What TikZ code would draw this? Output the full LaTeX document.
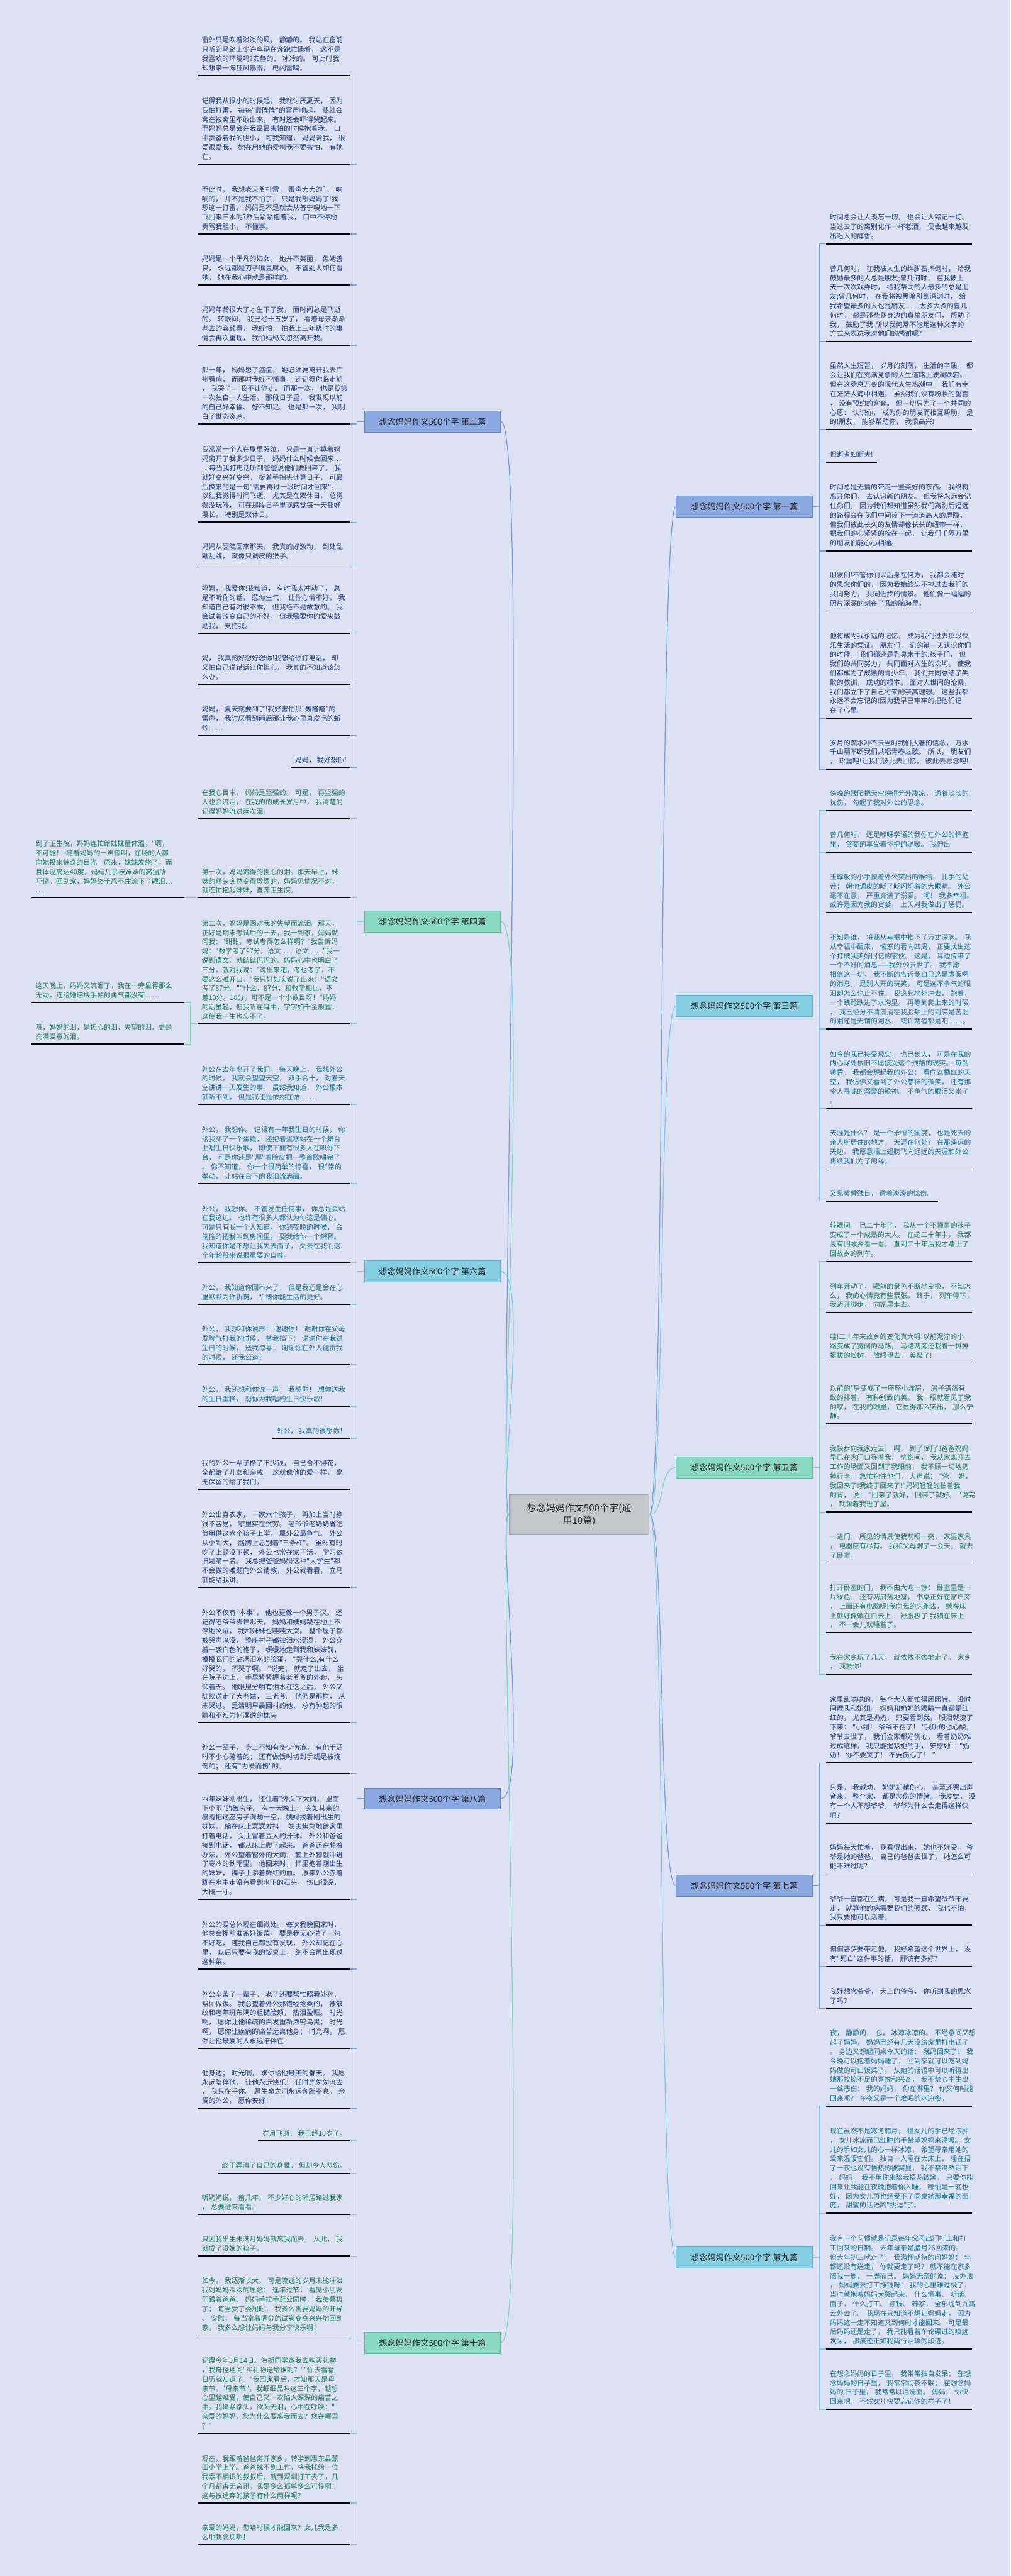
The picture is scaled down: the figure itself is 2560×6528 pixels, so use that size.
\documentclass[tikz,border=0pt]{standalone}
\usepackage{fontspec}
\newfontfamily\zh{Noto Sans CJK SC}
\definecolor{bg}{RGB}{220,225,243}
\definecolor{cB}{RGB}{125,158,220}
\definecolor{cC}{RGB}{132,200,226}
\definecolor{cG}{RGB}{134,212,190}
\definecolor{fB}{RGB}{140,168,224}
\definecolor{fC}{RGB}{136,206,226}
\definecolor{fG}{RGB}{138,216,194}
\definecolor{dB}{RGB}{100,132,200}
\definecolor{dC}{RGB}{100,175,205}
\definecolor{dG}{RGB}{100,185,160}
\definecolor{tB}{RGB}{30,58,118}
\definecolor{tC}{RGB}{28,112,142}
\definecolor{tG}{RGB}{28,120,90}
\definecolor{cgray}{RGB}{196,198,206}
\tikzset{
  leaf/.style={inner xsep=10pt, inner ysep=0pt, text width=400pt, align=left, font=\zh\fontsize{17.3}{23.6}\selectfont},
  leafs/.style={inner xsep=10pt, inner ysep=0pt, font=\zh\fontsize{17.3}{23.6}\selectfont},
  uline/.style={line width=2.5pt, black},
  br/.style={draw, line width=1.5pt, minimum width=345pt, minimum height=54pt, inner sep=0pt, font=\zh\fontsize{21}{25}\selectfont, text=black!85},
  conn/.style={line width=2pt}
}
\newcommand{\leafL}[5]{\node[leaf,text=#4,anchor=north west] (#1) at (501,{#2-28.9-(#3-1)*23.6}) {\strut #5};
  \coordinate (#1-s) at (501,#2); \coordinate (#1-e) at (888,#2); \draw[uline] (#1-s) -- (#1-e);}
\newcommand{\leafLs}[4]{\node[leafs,text=#3,anchor=north east] (#1) at (888,{#2-28.9}) {\strut #4};
  \coordinate (#1-s) at (#1.west |- 0,#2); \coordinate (#1-e) at (888,#2); \draw[uline] (#1-s) -- (#1-e);}
\newcommand{\leafR}[5]{\node[leaf,text=#4,anchor=north west] (#1) at (2092,{#2-29.9-(#3-1)*23.6}) {\strut #5};
  \coordinate (#1-s) at (2092,#2); \coordinate (#1-e) at (2462,#2); \draw[uline] (#1-s) -- (#1-e);}
\newcommand{\leafRs}[4]{\node[leafs,text=#3,anchor=north west] (#1) at (2092,{#2-29.9}) {\strut #4};
  \coordinate (#1-s) at (2092,#2); \coordinate (#1-e) at (#1.east |- 0,#2); \draw[uline] (#1-s) -- (#1-e);}
\newcommand{\leafF}[5]{\node[leaf,text=#4,anchor=north west] (#1) at (80,{#2-28.9-(#3-1)*23.6}) {\strut #5};
  \coordinate (#1-s) at (80,#2); \coordinate (#1-e) at (467,#2); \draw[uline] (#1-s) -- (#1-e);}
\begin{document}
\begin{tikzpicture}[x=1pt,y=-1pt]
\useasboundingbox (0,0) rectangle (2560,6528);
\fill[bg] (0,0) rectangle (2560,6528);

% ---------- center ----------
\node[draw=gray!70, fill=cgray, line width=1.5pt, minimum width=355pt, minimum height=100pt, align=center, font=\zh\fontsize{24}{32}\selectfont, text=black!85] (c) at (1467,3838) {想念妈妈作文500个字(通\\用10篇)};

% ---------- branches ----------
\node[br, fill=fB, draw=dB] (b2) at (1095.5,1068) {想念妈妈作文500个字 第二篇};
\node[br, fill=fG, draw=dG] (b4) at (1095.5,2335) {想念妈妈作文500个字 第四篇};
\node[br, fill=fC, draw=dC] (b6) at (1095.5,3222) {想念妈妈作文500个字 第六篇};
\node[br, fill=fB, draw=dB] (b8) at (1095.5,4558) {想念妈妈作文500个字 第八篇};
\node[br, fill=fG, draw=dG] (b10) at (1095.5,5937) {想念妈妈作文500个字 第十篇};
\node[br, fill=fB, draw=dB] (b1) at (1885.5,1283) {想念妈妈作文500个字 第一篇};
\node[br, fill=fC, draw=dC] (b3) at (1885.5,2549) {想念妈妈作文500个字 第三篇};
\node[br, fill=fG, draw=dG] (b5) at (1885.5,3719) {想念妈妈作文500个字 第五篇};
\node[br, fill=fB, draw=dB] (b7) at (1885.5,4779) {想念妈妈作文500个字 第七篇};
\node[br, fill=fC, draw=dC] (b9) at (1885.5,5721) {想念妈妈作文500个字 第九篇};

% curves center -> branches
\foreach \b/\col in {b2/cB,b4/cG,b6/cC,b8/cB,b10/cG}
  \draw[conn,\col] (c.west) .. controls +(-30,0) and +(75,0) .. (\b.east);
\foreach \b/\col in {b1/cB,b3/cC,b5/cG,b7/cB,b9/cC}
  \draw[conn,\col] (c.east) .. controls +(40,0) and +(-45,0) .. (\b.west);

% ---------- 第二篇 ----------
\leafL{L21}{191}{4}{tB}{窗外只是吹着淡淡的风， 静静的。 我站在窗前\\只听到马路上少许车辆在奔跑忙碌着， 这不是\\我喜欢的环境吗?安静的、 冰冷的。 可此时我\\却想来一阵狂风暴雨， 电闪雷鸣。}
\leafL{L22}{416}{7}{tB}{记得我从很小的时候起， 我就讨厌夏天， 因为\\我怕打雷， 每每"轰隆隆"的雷声响起， 我就会\\窝在被窝里不敢出来， 有时还会吓得哭起来。\\而妈妈总是会在我最最害怕的时候抱着我， 口\\中责备着我的胆小， 可我知道， 妈妈爱我， 很\\爱很爱我， 她在用她的爱叫我不要害怕， 有她\\在。}
\leafL{L23}{593}{5}{tB}{而此时， 我想老天爷打雷， 雷声大大的\textasciigrave、 响\\响的， 并不是我不怕了， 只是我想妈妈了!我\\想这一打雷， 妈妈是不是就会从普宁嗖地一下\\飞回来三水呢?然后紧紧抱着我， 口中不停地\\责骂我胆小， 不懂事。}
\leafL{L24}{722}{3}{tB}{妈妈是一个平凡的妇女， 她并不美丽， 但她善\\良， 永远都是刀子嘴豆腐心， 不管别人如何看\\她， 她在我心中就是那样的。}
\leafL{L25}{875}{4}{tB}{妈妈年龄很大了才生下了我， 而时间总是飞逝\\的。 转眼间， 我已经十五岁了， 看着母亲渐渐\\老去的容颜看， 我好怕， 怕我上三年级时的事\\情会再次重现， 我怕妈妈又忽然离开我。}
\leafL{L26}{1074}{6}{tB}{那一年， 妈妈患了癌症， 她必须要离开我去广\\州看病， 而那时我好不懂事， 还记得你临走前\\， 我哭了， 我不让你走。 而那一次， 也是我第\\一次独自一人生活。 那段日子里， 我发现以前\\的自己好幸福、 好不知足。 也是那一次， 我明\\白了世态炎凉。}
\leafL{L27}{1323}{8}{tB}{我常常一个人在屋里哭泣， 只是一直计算着妈\\妈离开了我多少日子， 妈妈什么时候会回来…\\…每当我打电话听到爸爸说他们要回来了， 我\\就好高兴好高兴， 板着手指头计算日子， 可最\\后换来的是一句"需要再过一段时间才回来"。\\以往我觉得时间飞逝， 尤其是在双休日， 总觉\\得没玩够， 可在那段日子里我感觉每一天都好\\漫长， 特别是双休日。}
\leafL{L28}{1428.5}{2}{tB}{妈妈从医院回来那天， 我真的好激动， 到处乱\\蹦乱跳， 就像只调皮的猴子。}
\leafL{L29}{1604.6}{5}{tB}{妈妈， 我爱你!我知道， 有时我太冲动了， 总\\是不听你的话， 惹你生气， 让你心情不好， 我\\知道自己有时很不乖， 但我绝不是故意的。 我\\会试着改变自己的不好， 但我需要你的爱来鼓\\励我， 支持我。}
\leafL{L210}{1733.7}{3}{tB}{妈， 我真的好想好想你!我想给你打电话， 却\\又怕自己说错话让你担心， 我真的不知道该怎\\么办。}
\leafL{L211}{1863.4}{3}{tB}{妈妈， 夏天就要到了!我好害怕那"轰隆隆"的\\雷声， 我讨厌看到雨后那让我心里直发毛的蚯\\蚓……}
\leafLs{L212}{1944.8}{tB}{妈妈， 我好想你!}
\foreach \n in {L21,L22,L23,L24,L25,L26,L27,L28,L29,L210,L211,L212}
  \draw[conn,cB] (b2.west) -- ++(-18,0) |- (\n-e);

% ---------- 第四篇 ----------
\leafL{L41}{2074.6}{3}{tG}{在我心目中， 妈妈是坚强的。 可是， 再坚强的\\人也会流泪， 在我的的成长岁月中， 我清楚的\\记得妈妈流过两次泪。}
\leafL{L42}{2275}{3}{tG}{第一次，妈妈流得的担心的泪。那天早上，妹\\妹的额头突然变得烫烫的，妈妈见情况不对，\\就连忙抱起妹妹，直奔卫生院。}
\leafL{L43}{2594.7}{11}{tG}{第二次，妈妈是因对我的失望而流泪。那天，\\正好是期末考试后的一天，我一到家，妈妈就\\问我："甜甜，考试考得怎么样啊？"我告诉妈\\妈："数学考了97分，语文……语文……"我一\\说到语文，就结结巴巴的。妈妈心中也明白了\\三分，就对我说："说出来吧，考也考了，不\\要这么难开口。"我只好如实说了出来："语文\\考了87分。""什么，87分，和数学相比，不\\差10分。10分，可不是一个小数目呀！"妈妈\\的话虽轻，但我听在耳中，字字如千金般重，\\这使我一生也忘不了。}
\leafF{F1}{2275}{6}{tG}{到了卫生院，妈妈连忙给妹妹量体温，"啊，\\不可能！"随着妈妈的一声惊叫，在场的人都\\向她投来惊奇的目光。原来，妹妹发烧了，而\\且体温高达40度，妈妈几乎被妹妹的高温所\\吓倒。回到家，妈妈终于忍不住流下了眼泪…\\…}
\leafF{F2}{2541}{2}{tG}{这天晚上，妈妈又流泪了，我在一旁显得那么\\无助，连给她递块手帕的勇气都没有……}
\leafF{F3}{2646}{2}{tG}{哦，妈妈的泪，是担心的泪，失望的泪，更是\\充满爱意的泪。}
\foreach \n in {L41,L42,L43}
  \draw[conn,cG] (b4.west) -- ++(-18,0) |- (\n-e);
\draw[conn,cG] (L42-s) -- (F1-e);
\foreach \n in {F2,F3}
  \draw[conn,cG] (L43-s) -- ++(-18,0) |- (\n-e);

% ---------- 第六篇 ----------
\leafL{L61}{2798.7}{4}{tC}{外公在去年离开了我们。 每天晚上， 我想外公\\的时候， 我就会望望天空， 双手合十， 对着天\\空讲讲一天发生的事。 虽然我知道， 外公根本\\就听不到， 但是我还是依然在做……}
\leafL{L62}{2999.4}{6}{tC}{外公， 我想你。 记得有一年我生日的时候， 你\\给我买了一个蛋糕， 还抱着蛋糕站在一个舞台\\上唱生日快乐歌， 即使下面有很多人在哄你下\\台， 可是你还是"厚"着脸皮把一整首歌唱完了\\。 你不知道， 你一个很简单的惊喜， 很*常的\\举动， 让站在台下的我泪流满面。}
\leafL{L63}{3200}{6}{tC}{外公， 我想你。 不管发生任何事， 你总是会站\\在我这边， 也许有很多人都认为你这是偏心。\\可是只有我一个人知道， 你到夜晚的时候， 会\\偷偷的把我叫到房间里， 要我给你一个解释。\\我知道你是不想让我失去面子， 失去在我们这\\个年龄段来说很重要的自尊。}
\leafL{L64}{3306}{2}{tC}{外公， 我知道你回不来了， 但是我还是会在心\\里默默为你祈祷， 祈祷你能生活的更好。}
\leafL{L65}{3458}{4}{tC}{外公， 我想和你说声： 谢谢你！ 谢谢你在父母\\发脾气打我的时候， 替我挡下； 谢谢你在我过\\生日的时候， 送我惊喜； 谢谢你在外人谴责我\\的时候， 还我公道！}
\leafL{L66}{3564}{2}{tC}{外公， 我还想和你说一声： 我想你！ 想你送我\\的生日蛋糕， 想你为我唱的生日快乐歌！}
\leafLs{L67}{3645}{tC}{外公， 我真的很想你！}
\foreach \n in {L61,L62,L63,L64,L65,L66,L67}
  \draw[conn,cC] (b6.west) -- ++(-18,0) |- (\n-e);

% ---------- 第八篇 ----------
\leafL{L81}{3773.7}{3}{tB}{我的外公一辈子挣了不少钱， 自己舍不得花，\\全都给了儿女和亲戚。 这就像他的爱一样， 毫\\无保留的给了我们。}
\leafL{L82}{4022.7}{8}{tB}{外公出身农家， 一家六个孩子， 再加上当时挣\\钱不容易， 家里实在贫穷。 老爷爷老奶奶省吃\\俭用供这六个孩子上学， 属外公最争气。 外公\\从小到大， 胳膊上总别着"三条杠"。 虽然有时\\吃了上顿没下顿， 外公也常在家干活， 学习依\\旧是第一名。 我总把爸爸妈妈这种"大学生"都\\不会做的难题向外公请教， 外公就看看， 立马\\就能给我讲。}
\leafL{L83}{4365}{12}{tB}{外公不仅有"本事"， 他也更像一个男子汉。 还\\记得老爷爷去世那天， 妈妈和姨妈跪在地上不\\停地哭泣， 我和妹妹也哇哇大哭。 整个屋子都\\被哭声淹没， 整座村子都被泪水浸湿， 外公穿\\着一袭白色的袍子， 缓缓地走到我和妹妹前，\\摸摸我们的沾满泪水的脸蛋， "哭什么,有什么\\好哭的， 不哭了啊。 "说完， 就走了出去， 坐\\在院子边上， 手里紧紧握着老爷爷的外套， 头\\仰着天。 他眼里分明有泪水在这之后， 外公又\\陆续送走了大老姑， 三老爷。 他仍是那样， 从\\未哭过， 是清明早晨回村的他， 总有肿起的眼\\睛和不知为何湿透的枕头}
\leafL{L84}{4494}{3}{tB}{外公一辈子， 身上不知有多少伤痕。 有他干活\\时不小心磕着的； 还有做饭时切到手或是被烧\\伤的； 还有"为爱而伤"的。}
\leafL{L85}{4813}{11}{tB}{xx年妹妹刚出生， 还住着"外头下大雨， 里面\\下小雨"的破房子。 有一天晚上， 突如其来的\\暴雨把这座房子洗劫一空， 姨妈搂着刚出生的\\妹妹， 缩在床上瑟瑟发抖， 姨夫焦急地给家里\\打着电话， 头上冒着豆大的汗珠。 外公和爸爸\\接到电话， 都从床上爬了起来。 爸爸还在想着\\办法， 外公望着窗外的大雨， 套上外套就冲进\\了寒冷的秋雨里。 他回来时， 怀里抱着刚出生\\的妹妹， 裤子上渗着鲜红的血。 原来外公赤着\\脚在水中走没有看到水下的石头。 伤口很深，\\大概一寸。}
\leafL{L86}{4990}{5}{tB}{外公的爱总体现在细微处。 每次我晚回家时，\\他总会提前准备好饭菜。 要是我无心说了一句\\不好吃， 连我自己都没有发现， 外公却记在心\\里。 以后只要有我的饭桌上， 绝不会再出现过\\这种菜。}
\leafL{L87}{5190.6}{6}{tB}{外公辛苦了一辈子， 老了还要帮忙照看外孙，\\帮忙做饭。 我总望着外公那饱经沧桑的， 被皱\\纹和老年斑布满的粗糙脸颊， 热泪盈眶。 时光\\啊， 愿你让他稀疏的白发重新浓密乌黑； 时光\\啊， 愿你让疾病的痛苦远离他身； 时光啊， 愿\\你让他最爱的人永远陪伴在}
\leafL{L88}{5342.8}{4}{tB}{他身边； 时光啊， 求你给他最美的春天。 我愿\\永远陪伴他， 让他永远快乐！ 任时光匆匆流去\\， 我只在乎你。 愿生命之河永远奔腾不息。 亲\\爱的外公， 愿你安好！}
\foreach \n in {L81,L82,L83,L84,L85,L86,L87,L88}
  \draw[conn,cB] (b8.west) -- ++(-18,0) |- (\n-e);

% ---------- 第十篇 ----------
\leafLs{L101}{5425}{tG}{岁月飞逝， 我已经10岁了。}
\leafLs{L102}{5507}{tG}{终于弄清了自己的身世， 但却令人悲伤。}
\leafL{L103}{5612}{2}{tG}{听奶奶说， 前几年， 不少好心的邻居路过我家\\， 总要进来看看。}
\leafL{L104}{5717}{2}{tG}{只因我出生未满月妈妈就离我而去， 从此， 我\\就成了没娘的孩子。}
\leafL{L105}{5917}{6}{tG}{如今， 我逐渐长大， 可是流逝的岁月未能冲淡\\我对妈妈深深的思念： 逢年过节， 看见小朋友\\们跟着爸爸、 妈妈手拉手逛公园时， 我羡慕极\\了； 每当受了委屈时， 我多么需要妈妈的开导\\、 安慰； 每当拿着满分的试卷高高兴兴地回到\\家， 我多么想让妈妈与我分享快乐啊！}
\leafL{L106}{6166}{8}{tG}{记得今年5月14日。海娇同学邀我去购买礼物\\，我奇怪地问"买礼物送给谁呢？""你去看看\\日历就知道了。"我回家看后，才知那天是母\\亲节。"母亲节"，我细细品味这三个字，越想\\心里越难受，使自己又一次陷入深深的痛苦之\\中。我攥紧拳头，欲哭无泪，心中在呼唤："\\亲爱的妈妈，您为什么要离我而去？您在哪里\\？"}
\leafL{L107}{6343}{5}{tG}{现在，我跟着爸爸离开家乡，转学到惠东县蕉\\田小学上学。爸爸找不到工作，将我托给一位\\我素不相识的叔叔后，就到深圳打工去了，几\\个月都杳无音讯。我是多么孤单多么可怜啊！\\这与被遗弃的孩子有什么两样呢？}
\leafL{L108}{6448}{2}{tG}{亲爱的妈妈，您啥时候才能回来？女儿我是多\\么地想念您啊！}
\foreach \n in {L101,L102,L103,L104,L105,L106,L107,L108}
  \draw[conn,cG] (b10.west) -- ++(-18,0) |- (\n-e);

% ---------- 第一篇 ----------
\leafR{R11}{618}{3}{tB}{时间总会让人淡忘一切， 也会让人铭记一切。\\当过去了的离别化作一杯老酒， 便会越来越发\\出迷人的醇香。}
\leafR{R12}{865.6}{8}{tB}{曾几何时， 在我被人生的绊脚石摔倒时， 给我\\鼓励最多的人总是朋友;曾几何时， 在我被上\\天一次次戏弄时， 给我帮助的人最多的总是朋\\友;曾几何时， 在我将被黑暗引到深渊时， 给\\我希望最多的人也是朋友……太多太多的曾几\\何时。 都是那些我身边的真挚朋友们， 帮助了\\我， 鼓励了我!所以我何常不能用这种文字的\\方式来表达我对他们的感谢呢?}
\leafR{R13}{1088.7}{7}{tB}{虽然人生短暂， 岁月的刻薄， 生活的辛酸。 都\\会让我们在充满竞争的人生道路上波澜跌宕。\\但在这瞬息万变的现代人生热潮中， 我们有幸\\在茫茫人海中相遇。 虽然我们没有粉妆的誓言\\， 没有预约的客套。 但一切只为了一个共同的\\心愿： 认识你， 成为你的朋友而相互帮助。 是\\的!朋友， 能够帮助你， 我很高兴!}
\leafRs{R14}{1171}{tB}{但逝者如斯夫!}
\leafR{R15}{1396}{7}{tB}{时间总是无情的带走一些美好的东西。 我终将\\离开你们， 去认识新的朋友。 但我将永远会记\\住你们， 因为我们都知道虽然我们离别后遥远\\的路程会在我们中间设下一道道高大的屏障，\\但我们彼此长久的友情却像长长的纽带一样，\\把我们的心紧紧的栓在一起， 让我们千隔万里\\的朋友们能心心相通。}
\leafR{R16}{1548.5}{4}{tB}{朋友们!不管你们以后身在何方， 我都会随时\\的思念你们的， 因为我始终忘不掉过去我们的\\共同努力， 共同进步的情景。 他们像一幅幅的\\照片深深的刻在了我的脑海里。}
\leafR{R17}{1820}{9}{tB}{他将成为我永远的记忆， 成为我们过去那段快\\乐生活的凭证。 朋友们， 记的第一天认识你们\\的时候， 我们都还是乳臭未干的.孩子们， 但\\我们的共同努力， 共同面对人生的坎坷， 使我\\们都成为了成熟的青少年， 我们共同总结了失\\败的教训， 成功的根本。 面对人世间的沧桑，\\我们都立下了自己将来的崇高理想。 这些我都\\永远不会忘记的!因为我早已牢牢的把他们记\\在了心里。}
\leafR{R18}{1949}{3}{tB}{岁月的流水冲不去当时我们执著的信念， 万水\\千山隔不断我们共唱青春之歌。 所以， 朋友们\\， 珍重吧!让我们彼此去回忆， 彼此去思念吧!}
\foreach \n in {R11,R12,R13,R14,R15,R16,R17,R18}
  \draw[conn,cB] (b1.east) -- ++(17,0) |- (\n-s);

% ---------- 第三篇 ----------
\leafR{R31}{2054}{2}{tC}{傍晚的残阳把天空映得分外凄凉， 透着淡淡的\\忧伤， 勾起了我对外公的思念。}
\leafR{R32}{2159.6}{2}{tC}{曾几何时， 还是咿呀学语的我你在外公的怀抱\\里， 贪婪的享受着怀抱的温暖。 我伸出}
\leafR{R33}{2312.8}{4}{tC}{玉琢般的小手摸着外公突出的喉结， 扎手的胡\\茬； 朝他调皮的眨了眨闪烁着的大眼睛。 外公\\毫不在意， 严重充满了溺爱。 呵！ 我多幸福。\\或许是因为我的贪婪， 上天对我做出了惩罚。}
\leafR{R34}{2607.5}{10}{tC}{不知是谁， 将我从幸福中推下了万丈深渊。 我\\从幸福中醒来， 恼怒的看向四周， 正要找出这\\个打破我美好回忆的家伙。 这是， 耳边传来了\\一个不好的消息——我外公去世了。 我不愿\\相信这一切， 我不断的告诉我自己这是虚假啊\\的消息， 是别人开的玩笑， 可是这不争气的眼\\泪却怎么也止不住。 我疯狂地外冲去， 跑着，\\一个踉跄跌进了水沟里。 再等到爬上来的时候\\， 我已经分不清流淌在我脸颊上的到底是苦涩\\的泪还是无谓的河水， 或许两者都是吧……。}
\leafR{R35}{2808.8}{6}{tC}{如今的我已接受现实， 也已长大， 可是在我的\\内心深处依旧不愿接受这个残酷的现实。 每到\\黄昏， 我都会想起我的外公； 看向这橘红的天\\空， 我仿佛又看到了外公慈祥的微笑， 还有那\\令人寻味的溺爱的眼神。 不争气的眼泪又来了\\。}
\leafR{R36}{2962}{4}{tC}{天涯是什么？ 是一个永恒的国度， 也是死去的\\亲人所居住的地方。 天涯在何处？ 在那遥远的\\天边。 我愿意插上翅膀飞向遥远的天涯和外公\\再续我们为了的缘。}
\leafRs{R37}{3043.7}{tC}{又见黄昏残日， 透着淡淡的忧伤。}
\foreach \n in {R31,R32,R33,R34,R35,R36,R37}
  \draw[conn,cC] (b3.east) -- ++(17,0) |- (\n-s);

% ---------- 第五篇 ----------
\leafR{R51}{3196}{4}{tG}{转眼间， 已二十年了， 我从一个不懂事的孩子\\变成了一个成熟的大人。 在这二十年中， 我都\\没有回故乡看一看， 直到二十年后我才踏上了\\回故乡的列车。}
\leafR{R52}{3326.5}{3}{tG}{列车开动了， 眼前的景色不断地变换， 不知怎\\么， 我的心情竟有些紧张。 终于， 列车停下，\\我迈开脚步， 向家里走去。}
\leafR{R53}{3454.5}{3}{tG}{哇!二十年来故乡的变化真大呀!以前泥泞的小\\路变成了宽阔的马路， 马路两旁还栽着一排排\\挺拔的松树， 放眼望去， 美极了!}
\leafR{R54}{3608.5}{4}{tG}{以前的*房变成了一座座小洋房， 房子错落有\\致的排着， 有种别致的美。 我一眼就看见了我\\的家， 在我的眼里， 它显得那么突出， 那么宁\\静。}
\leafR{R55}{3831.6}{7}{tG}{我快步向我家走去， 啊， 到了!到了!爸爸妈妈\\早已在家门口等着我， 恍惚间， 我从家离开去\\工作的场面又回到了我眼前， 我不顾一切地扔\\掉行李， 急忙抱住他们， 大声说： "爸， 妈，\\我回来了!我终于回来了!"妈妈轻轻的拍着我\\的背， 说： "回来了就好， 回来了就好。 "说完\\， 就领着我进了屋。}
\leafR{R56}{3961}{3}{tG}{一进门， 所见的情景使我前眼一亮， 家里家具\\， 电器应有尽有。 我和父母聊了一会天， 就去\\了卧室。}
\leafR{R57}{4137.6}{5}{tG}{打开卧室的门， 我不由大吃一惊： 卧室里是一\\片绿色， 还有两扇落地窗， 书桌正好在窗户旁\\， 上面还有电脑呢!我向我的床跑去， 躺在床\\上就好像躺在白云上， 舒服极了!我躺在床上\\， 不一会儿就睡着了。}
\leafR{R58}{4242.9}{2}{tG}{我在家乡玩了几天， 就依依不舍地走了。 家乡\\， 我爱你!}
\foreach \n in {R51,R52,R53,R54,R55,R56,R57,R58}
  \draw[conn,cG] (b5.east) -- ++(17,0) |- (\n-s);

% ---------- 第七篇 ----------
\leafR{R71}{4467.5}{7}{tB}{家里乱哄哄的， 每个大人都忙得团团转， 没时\\间理我和姐姐。 妈妈和奶奶的眼睛一直都是红\\红的， 尤其是奶奶， 只要看到我， 眼泪就流了\\下来： "小翎！ 爷爷不在了！ "我听的也心酸，\\爷爷去世了， 我们全家都好伤心， 看着奶奶难\\过成这样， 我只能握紧她的手， 安慰她： "奶\\奶！ 你不要哭了！ 不要伤心了！ "}
\leafR{R72}{4620}{4}{tB}{只是， 我越劝， 奶奶却越伤心， 甚至还哭出声\\音来。 整个家， 都是悲伤的情绪。 我发觉， 没\\有一个人不想爷爷， 爷爷为什么会走得这样快\\呢？}
\leafR{R73}{4748.6}{3}{tB}{妈妈每天忙着， 我看得出来， 她也不好受， 爷\\爷是她的爸爸， 自己的爸爸去世了， 她怎么可\\能不难过呢？}
\leafR{R74}{4878.7}{3}{tB}{爷爷一直都在生病， 可是我一直希望爷爷不要\\走， 就算他的病需要我们的照顾， 我也不怕，\\我只要他可以活着。}
\leafR{R75}{4983}{2}{tB}{偏偏菩萨要带走他， 我好希望这个世界上， 没\\有"死亡"这件事的话， 那该有多好？}
\leafR{R76}{5090}{2}{tB}{我好想念爷爷， 天上的爷爷， 你听到我的思念\\了吗？}
\foreach \n in {R71,R72,R73,R74,R75,R76}
  \draw[conn,cB] (b7.east) -- ++(17,0) |- (\n-s);

% ---------- 第九篇 ----------
\leafR{R91}{5337}{8}{tC}{夜， 静静的， 心， 冰凉冰凉的。 不经意间又想\\起了妈妈， 妈妈已经有几天没给家里打电话了\\。 身边又想起同桌今天的话： 我妈回来了！ 我\\今晚可以抱着妈妈睡了， 回到家就可以吃到妈\\妈做的可口饭菜了。 从她的话语中可以听得出\\她那按捺不足的喜悦和兴奋， 我不禁心中生出\\一丝悲伤： 我的妈妈， 你在哪里？ 你又何时能\\回来呢？ 今夜又是一个难眠的冰凉夜。}
\leafR{R92}{5608.7}{9}{tC}{现在虽然不是寒冬腊月， 但女儿的手已经冻肿\\， 女儿冰凉而已红肿的手希望妈妈来温暖。 女\\儿的手如女儿的心一样冰凉， 希望母亲用她的\\爱来温暖它们。 独自一人睡在大床上， 睡在捂\\了一夜也没有捂热的被窝里， 我不禁潸然泪下\\， 妈妈， 我不用你来陪我捂热被窝， 只要你能\\回来让我能在夜晚抱着你入睡， 哪怕是一晚也\\好， 因为女儿再也经受不了同桌她那幸福的面\\庞， 甜蜜的话语的"挑逗"了。}
\leafR{R93}{5952.6}{12}{tC}{我有一个习惯就是记录每年父母出门打工和打\\工回来的日期。 去年母亲是腊月26回来的。\\但大年初三就走了。 我满怀期待的问妈妈： 年\\都还没有送走， 你就要走了吗？ 就不能在家多\\陪我一周， 一周而已。 妈妈无奈的说： 没办法\\， 妈妈要去打工挣钱呀！ 我的心里难过极了，\\当时就抱着妈妈大哭起来， 什么懂事、 听话、\\面子， 什么打工、 挣钱、 养家， 全部抛到九霄\\云外去了。 我现在只知道不想让妈妈走， 因为\\妈妈这一走不知道又到何时才能回来。 可是最\\后妈妈还是走了， 我只能看着车轮碾过的痕迹\\发呆， 那痕迹正如我两行泪珠的印迹。}
\leafR{R94}{6105.4}{4}{tC}{在想念妈妈的日子里， 我常常独自发呆； 在想\\念妈妈的日子里， 我常常彻夜不眠； 在想念妈\\妈的.日子里， 我常常以泪洗面。 妈妈， 你快\\回来吧， 不然女儿快要忘记你的样子了！}
\foreach \n in {R91,R92,R93,R94}
  \draw[conn,cC] (b9.east) -- ++(17,0) |- (\n-s);
\end{tikzpicture}
\end{document}
